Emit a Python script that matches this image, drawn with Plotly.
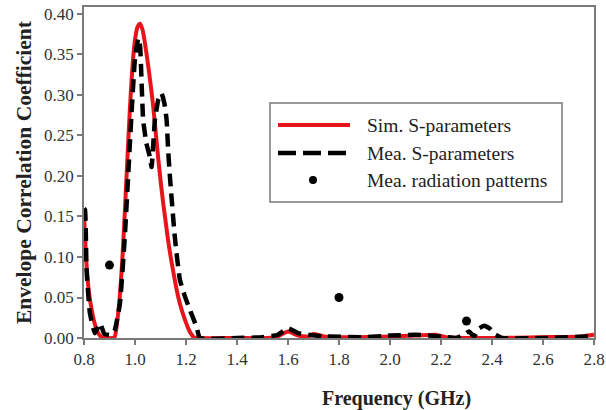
import plotly.graph_objects as go

# Simulated S-parameter ECC
sim_freq = [0.80, 0.81, 0.82, 0.83, 0.84, 0.85, 0.86, 0.87, 0.89, 0.91, 0.92, 0.93, 0.94, 0.95,
            0.96, 0.97, 0.98, 0.99, 1.00, 1.01, 1.02, 1.03, 1.04, 1.05, 1.06, 1.07, 1.08, 1.09,
            1.10, 1.11, 1.12, 1.13, 1.14, 1.15, 1.16, 1.17, 1.18, 1.19, 1.20, 1.21, 1.22, 1.23,
            1.25, 1.40, 1.52, 1.56, 1.60, 1.64, 1.68, 1.70, 1.74, 1.80, 2.00, 2.10, 2.18, 2.22,
            2.40, 2.60, 2.75, 2.80]
sim_ecc = [0.154, 0.090, 0.055, 0.035, 0.020, 0.010, 0.004, 0.001, 0.000, 0.000, 0.001, 0.020, 0.050, 0.095,
           0.155, 0.220, 0.283, 0.335, 0.368, 0.384, 0.388, 0.380, 0.362, 0.340, 0.316, 0.290, 0.258, 0.225,
           0.195, 0.168, 0.144, 0.120, 0.100, 0.082, 0.065, 0.050, 0.038, 0.028, 0.019, 0.011, 0.005, 0.001,
           0.000, 0.000, 0.000, 0.002, 0.008, 0.003, 0.002, 0.005, 0.002, 0.001, 0.002, 0.003, 0.004, 0.001,
           0.000, 0.001, 0.002, 0.004]

# Measured S-parameter ECC
mea_freq = [0.800, 0.804, 0.810, 0.823, 0.843, 0.863, 0.880, 0.908, 0.921, 0.941, 0.960, 0.973,
            0.987, 1.000, 1.013, 1.020, 1.025, 1.032, 1.045, 1.058, 1.065, 1.078, 1.092, 1.104,
            1.115, 1.124, 1.130, 1.137, 1.156, 1.176, 1.195, 1.215, 1.241, 1.255, 1.40, 1.50,
            1.56, 1.60, 1.64, 1.68, 1.74, 1.90, 2.00, 2.10, 2.20, 2.26, 2.29, 2.31, 2.33,
            2.35, 2.37, 2.39, 2.41, 2.44, 2.60, 2.80]
mea_ecc = [0.160, 0.158, 0.084, 0.031, 0.006, 0.018, 0.005, 0.004, 0.010, 0.043, 0.125, 0.199,
           0.281, 0.345, 0.370, 0.360, 0.323, 0.269, 0.240, 0.224, 0.211, 0.269, 0.295, 0.302,
           0.290, 0.269, 0.232, 0.199, 0.125, 0.072, 0.052, 0.035, 0.014, 0.000, 0.000, 0.001,
           0.004, 0.012, 0.006, 0.004, 0.002, 0.001, 0.003, 0.004, 0.002, 0.000, 0.004, 0.008, 0.002,
           0.012, 0.015, 0.012, 0.005, 0.000, 0.000, 0.002]

# Measured radiation-pattern ECC
rad_freq = [0.90, 1.80, 2.30]
rad_ecc = [0.090, 0.050, 0.021]

x_ticks = [0.8, 1.0, 1.2, 1.4, 1.6, 1.8, 2.0, 2.2, 2.4, 2.6, 2.8]
x_tick_labels = ["0.8", "1.0", "1.2", "1.4", "1.6", "1.8", "2.0", "2.2", "2.4", "2.6", "2.8"]
y_ticks = [0.0, 0.05, 0.10, 0.15, 0.20, 0.25, 0.30, 0.35, 0.40]
y_tick_labels = ["0.00", "0.05", "0.10", "0.15", "0.20", "0.25", "0.30", "0.35", "0.40"]

legend_names = ["Sim. S-parameters", "Mea. S-parameters", "Mea. radiation patterns"]

RED = "#e8141c"
GRAY = "#7a7a7a"
FONT = "Liberation Serif"

fig = go.Figure()
fig.add_trace(go.Scatter(x=sim_freq, y=sim_ecc, mode="lines", name=legend_names[0],
                         line=dict(color=RED, width=4, shape="spline", smoothing=0.6),
                         showlegend=False))
fig.add_trace(go.Scatter(x=mea_freq, y=mea_ecc, mode="lines", name=legend_names[1],
                         line=dict(color="black", width=4.5, dash="13px,7px", shape="spline", smoothing=0.4),
                         showlegend=False))
fig.add_trace(go.Scatter(x=rad_freq, y=rad_ecc, mode="markers", name=legend_names[2],
                         marker=dict(color="black", size=9),
                         showlegend=False))

L, R, T, B = 84, 12, 7, 72
W, H = 606, 410
pw, ph = W - L - R, H - T - B


def px(xp):
    return (xp - L) / pw


def py(yp):
    return (H - B - yp) / ph


shapes = []
annotations = []
# legend box
shapes.append(dict(type="rect", xref="paper", yref="paper", x0=px(270), x1=px(562),
                   y0=py(202), y1=py(103), line=dict(color=GRAY, width=1.5), fillcolor="white",
                   layer="below"))
shapes.append(dict(type="line", xref="paper", yref="paper", x0=px(278), x1=px(350),
                   y0=py(125), y1=py(125), line=dict(color=RED, width=4)))
shapes.append(dict(type="line", xref="paper", yref="paper", x0=px(278), x1=px(346),
                   y0=py(153), y1=py(153), line=dict(color="black", width=4.5, dash="18px,7px")))
shapes.append(dict(type="circle", xref="paper", yref="paper", xsizemode="pixel", ysizemode="pixel",
                   xanchor=px(313), yanchor=py(180), x0=-4, x1=4, y0=-4, y1=4,
                   fillcolor="black", line=dict(color="black", width=0)))
for name, yy in zip(legend_names, [125, 153, 180]):
    annotations.append(dict(text=name, xref="paper", yref="paper", x=px(365), y=py(yy),
                            xanchor="left", yanchor="middle", showarrow=False,
                            font=dict(family=FONT, size=19.5, color="#222")))

annotations.append(dict(text="<b>Frequency (GHz)</b>", xref="paper", yref="paper",
                        x=px(396), y=py(398), xanchor="center", yanchor="middle", showarrow=False,
                        font=dict(family=FONT, size=20, color="#222")))
annotations.append(dict(text="<b>Envelope Correlation Coefficient</b>", xref="paper", yref="paper",
                        x=px(24), y=py(172), xanchor="center", yanchor="middle", showarrow=False,
                        textangle=-90, font=dict(family=FONT, size=21.5, color="#222")))

fig.update_layout(
    width=W, height=H,
    margin=dict(l=L, r=R, t=T, b=B, pad=0, autoexpand=False),
    paper_bgcolor="white", plot_bgcolor="white",
    shapes=shapes, annotations=annotations,
    showlegend=False,
    font=dict(family=FONT, size=17, color="#333"),
)
fig.update_xaxes(range=[0.8, 2.8], tickvals=x_ticks, ticktext=x_tick_labels,
                 showgrid=False, zeroline=False, showline=True, linecolor=GRAY, linewidth=1.5,
                 mirror=True, ticks="outside", ticklen=5, tickcolor=GRAY, tickwidth=1.5,
                 ticklabeloverflow="allow", automargin=False,
                 tickfont=dict(family=FONT, size=17, color="#333"))
fig.update_yaxes(range=[0, 0.4086], tickvals=y_ticks, ticktext=y_tick_labels,
                 showgrid=False, zeroline=False, showline=True, linecolor=GRAY, linewidth=1.5,
                 mirror=True, ticks="outside", ticklen=5, tickcolor=GRAY, tickwidth=1.5,
                 ticklabeloverflow="allow", automargin=False,
                 tickfont=dict(family=FONT, size=17, color="#333"))

fig.write_html("out.html", config={"displayModeBar": False},
               post_script="document.documentElement.style.overflow='hidden';document.body.style.margin='0';document.body.style.overflow='hidden';")
